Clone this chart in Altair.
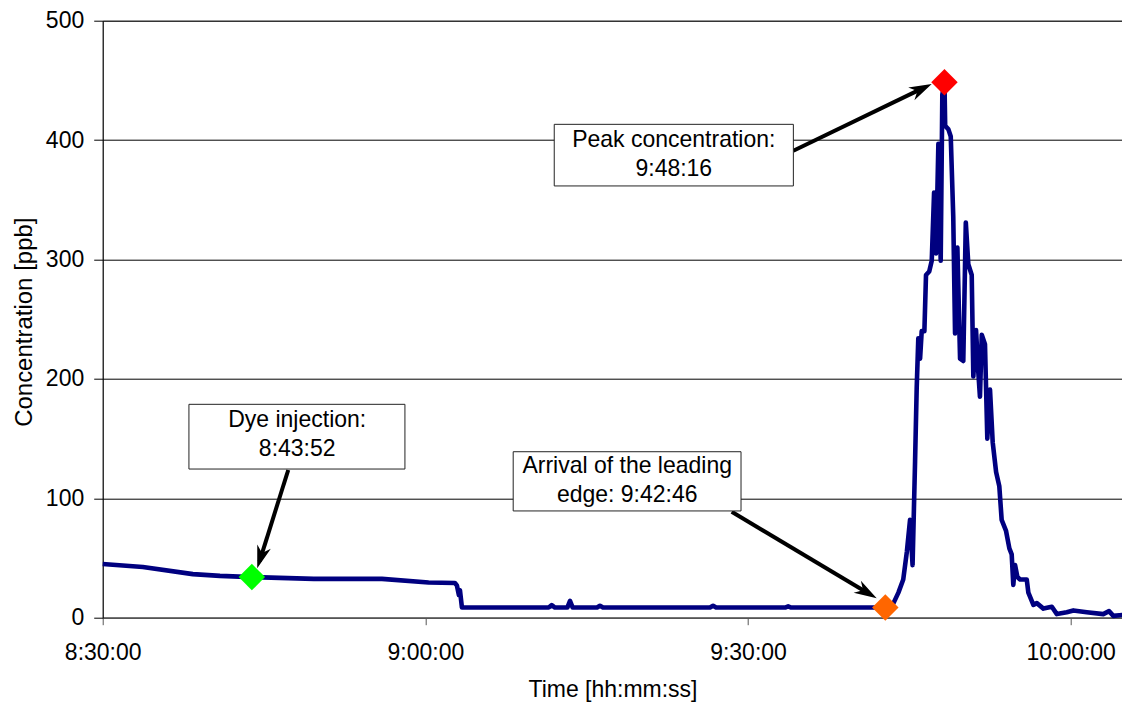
import altair as alt
import pandas as pd

FONT = "Liberation Sans"
DAY = "2000-01-01T"

# ---- main series (time of day, concentration ppb) ----
TIME = ["08:30:00","08:33:44","08:38:23","08:40:54","08:43:52","08:49:38","08:55:58","09:00:18",
        "09:02:45","09:02:56","09:03:07","09:03:13",
        "09:03:24","09:11:28","09:11:45","09:12:03","09:13:12","09:13:27","09:13:42","09:15:58",
        "09:16:14","09:16:31","09:26:28","09:26:45","09:27:02","09:33:27","09:33:44","09:34:01",
        "09:42:17",
        "09:42:46","09:43:31","09:43:59",
        "09:44:26","09:44:46","09:45:04","09:45:18","09:45:32","09:45:41","09:45:50","09:46:00",
        "09:46:09","09:46:24","09:46:33","09:46:51","09:47:05","09:47:18","09:47:29","09:47:42",
        "09:47:55","09:48:04","09:48:16","09:48:20","09:48:38","09:48:51","09:49:05","09:49:15",
        "09:49:28","09:49:43","09:50:01","09:50:15","09:50:29","09:50:48","09:50:57","09:51:12",
        "09:51:25","09:51:34","09:51:44","09:52:02","09:52:15","09:52:30","09:52:45","09:53:04",
        "09:53:22","09:53:35","09:53:59","09:54:18","09:54:31","09:54:40","09:54:50","09:55:03",
        "09:55:18","09:55:55","09:56:04","09:56:32","09:56:51","09:57:28","09:58:15","09:58:43",
        "09:59:38","10:00:15","10:01:30","10:03:02","10:03:34","10:03:58","10:05:37"]
CONC = [45, 42.5, 36.5, 35, 34, 32.5, 32.5, 29.5,
        29, 27, 19, 23,
        8.5, 8.5, 10.5, 8.5, 8.5, 14, 8.5, 8.5,
        10, 8.5, 8.5, 10, 8.5, 8.5, 9.5, 8.5,
        8.5,
        8.5, 12, 21,
        32, 55, 82, 44, 131, 192, 234, 217,
        240, 240, 287, 290, 299, 356, 305, 397,
        299, 438, 448, 412, 409, 403, 336, 238,
        310, 217, 215, 331, 296, 287, 202, 241,
        205, 185, 237, 229, 150, 191, 147, 122,
        110, 82, 73, 58, 53, 27.5, 44, 34,
        32, 32, 21, 10.7, 12.2, 7.6, 9.2, 3,
        4.6, 6.1, 4.6, 3, 5.5, 1.5, 3]

# ---- highlighted events ----
EVENT_TIME = ["08:43:52", "09:42:46", "09:48:16"]
EVENT_CONC = [34, 8.5, 448.5]
EVENT_COLOR = ["#00ff00", "#ff6600", "#ff0000"]

# ---- annotation boxes ----
LABELS = ["Dye injection:\n8:43:52", "Arrival of the leading\nedge: 9:42:46", "Peak concentration:\n9:48:16"]
LABEL_T = ["08:48:05", "09:18:46", "09:23:06"]
LABEL_C = [159.5, 120.9, 394.6]
BOX_T1 = ["08:38:01", "09:08:10", "09:11:59"]
BOX_T2 = ["08:58:06", "09:29:21", "09:34:13"]
BOX_C1 = [178.7, 139.0, 413.2]
BOX_C2 = [124.5, 89.4, 361.6]

# ---- arrows (tail at box, tip at event) ----
ARROW_T0 = ["08:47:15", "09:28:29", "09:34:13"]
ARROW_C0 = [123.7, 88.7, 391.1]
ARROW_T1 = ["08:44:22", "09:41:58", "09:47:05"]
ARROW_C1 = [41.4, 16.2, 447.0]
ARROW_ANGLE = [197.5, 120.8, 64.3]

X_TICKS = ["08:30:00", "09:00:00", "09:30:00", "10:00:00"]
Y_TICKS = [0, 100, 200, 300, 400, 500]


def ts(s):
    return pd.Timestamp(DAY + s)


def dt(s):
    h, m, sec = (int(v) for v in s.split(":"))
    return alt.DateTime(year=2000, month=1, date=1, hours=h, minutes=m, seconds=sec)


def iso(t):
    return t.strftime("%Y-%m-%dT%H:%M:%S")


series = pd.DataFrame({"t": [DAY + s for s in TIME], "c": CONC})
events = pd.DataFrame({"t": [DAY + s for s in EVENT_TIME], "c": EVENT_CONC, "col": EVENT_COLOR})
labels = pd.DataFrame({"t": [DAY + s for s in LABEL_T], "c": LABEL_C, "txt": LABELS})
boxes = pd.DataFrame({"t": [DAY + s for s in BOX_T1], "t2": [DAY + s for s in BOX_T2],
                      "c": BOX_C1, "c2": BOX_C2})

frac = 0.93
shaft_t2, shaft_c2 = [], []
for a, b, ca, cb in zip(ARROW_T0, ARROW_T1, ARROW_C0, ARROW_C1):
    ta, tb = ts(a), ts(b)
    shaft_t2.append(iso(ta + (tb - ta) * frac))
    shaft_c2.append(ca + (cb - ca) * frac)
shafts = pd.DataFrame({"t": [DAY + s for s in ARROW_T0], "c": ARROW_C0,
                       "t2": shaft_t2, "c2": shaft_c2})
heads = pd.DataFrame({"t": [DAY + s for s in ARROW_T1], "c": ARROW_C1, "ang": ARROW_ANGLE})

x_scale = alt.Scale(domain=[dt("08:30:00"), dt("10:04:48")], nice=False)
y_scale = alt.Scale(domain=[0, 500], nice=False)

X_AX = alt.Axis(
    values=[dt(s) for s in X_TICKS], format="%-H:%M:%S", title="Time [hh:mm:ss]",
    grid=False, tickSize=7, tickColor="#555555", domainColor="#555555", domainWidth=1.6,
    labelFont=FONT, labelFontSize=23, labelColor="black", labelPadding=35,
    labelBaseline="alphabetic", labelFlush=False, labelOverlap=False,
    titleFont=FONT, titleFontSize=23, titleFontWeight="normal", titleColor="black",
    titleY=79, titleBaseline="alphabetic",
)
Y_AX = alt.Axis(
    values=Y_TICKS, title="Concentration [ppb]", grid=True, gridColor="black",
    gridWidth=1, gridOpacity=1, tickSize=9, tickColor="black", domainColor="black",
    labelFont=FONT, labelFontSize=23, labelColor="black", labelPadding=10,
    titleFont=FONT, titleFontSize=24, titleFontWeight="normal", titleColor="black",
    titleAngle=270, titleX=-71, titleY=301, titleBaseline="alphabetic", titleAlign="center",
)

X = alt.X("t:T", scale=x_scale, axis=X_AX)
Y = alt.Y("c:Q", scale=y_scale, axis=Y_AX)

line = alt.Chart(series).mark_line(color="#000080", strokeWidth=4.6, strokeJoin="round").encode(x=X, y=Y)

pts = alt.Chart(events).mark_point(shape="diamond", filled=True, size=700, opacity=1, strokeWidth=0).encode(
    x=X, y=Y, color=alt.Color("col:N", scale=None))

shaft = alt.Chart(shafts).mark_rule(color="black", strokeWidth=4, strokeCap="butt").encode(
    x=X, y=Y, x2="t2:T", y2="c2:Q")

ARROW_PATH = "M0,0L0.58,1.85L0,1.3L-0.58,1.85Z"
head = alt.Chart(heads).mark_point(shape=ARROW_PATH, filled=True, size=600, color="black",
                                   opacity=1, strokeWidth=0).encode(
    x=X, y=Y, angle=alt.Angle("ang:Q", scale=None))

box = alt.Chart(boxes).mark_rect(fill="white", stroke="#222222", strokeWidth=1).encode(
    x=X, y=Y, x2="t2:T", y2="c2:Q")

txt = alt.Chart(labels).mark_text(font=FONT, fontSize=23, color="black", align="center",
                                  baseline="alphabetic", lineBreak="\n", lineHeight=29).encode(
    x=X, y=Y, text="txt:N")

chart = alt.layer(line, pts, shaft, head, box, txt).properties(
    width=1019.6, height=597,
    autosize=alt.AutoSizeParams(type="none"),
    padding={"left": 94.7, "top": 12.7, "right": 0, "bottom": 84},
    background="white",
).configure_view(stroke="#808080", strokeWidth=1)

chart.save("out.html", embed_options={"renderer": "svg", "actions": False})
